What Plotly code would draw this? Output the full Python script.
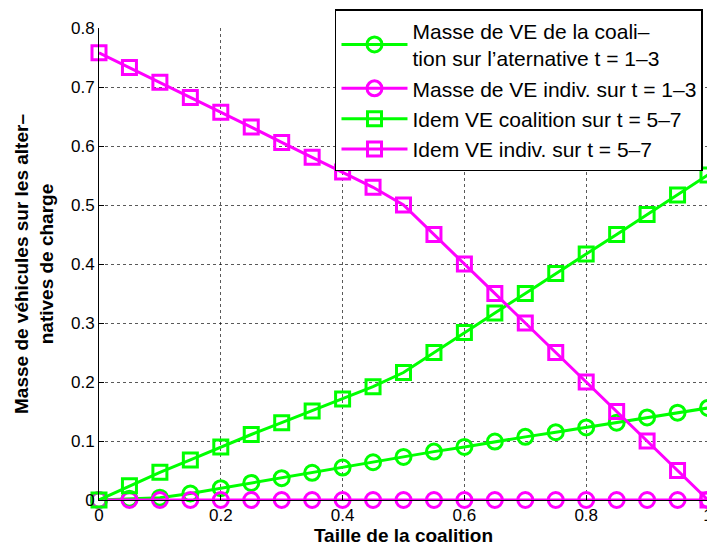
import plotly.graph_objects as go

x = [round(i * 0.05, 2) for i in range(21)]

coal_t13 = [0, 0.002, 0.004, 0.011, 0.020, 0.029, 0.037, 0.046, 0.055, 0.064, 0.073,
            0.082, 0.090, 0.099, 0.107, 0.115, 0.123, 0.131, 0.140, 0.148, 0.156]
indiv_t13 = [0] * 21
coal_t57 = [0, 0.024, 0.047, 0.068, 0.090, 0.111, 0.131, 0.151, 0.171, 0.192, 0.216,
            0.250, 0.284, 0.317, 0.350, 0.384, 0.417, 0.450, 0.484, 0.517, 0.551]
indiv_t57 = [0.758, 0.733, 0.708, 0.682, 0.657, 0.632, 0.606, 0.581, 0.556, 0.530, 0.500,
             0.450, 0.400, 0.350, 0.300, 0.250, 0.200, 0.150, 0.100, 0.050, 0.0]

names = [
    "Masse de VE de la coali–<br>tion sur l’aternative t = 1–3",
    "Masse de VE indiv. sur t = 1–3",
    "Idem VE coalition sur t = 5–7",
    "Idem VE indiv. sur t = 5–7",
]
GREEN = "#00FF00"
MAGENTA = "#FF00FF"

series = [
    (coal_t13, GREEN, "circle-open", 15),
    (indiv_t13, MAGENTA, "circle-open", 15),
    (coal_t57, GREEN, "square-open", 14),
    (indiv_t57, MAGENTA, "square-open", 14),
]

fig = go.Figure()
for (y, c, sym, sz), n in zip(series, names):
    fig.add_trace(go.Scatter(
        x=x, y=y, name=n, mode="lines+markers",
        line=dict(color=c, width=3),
        marker=dict(symbol=sym, size=sz, color=c, line=dict(color=c, width=3)),
        cliponaxis=False,
    ))

FONT = "Liberation Sans, Arial, Helvetica, sans-serif"
fig.update_layout(
    width=715, height=551,
    margin=dict(l=91, r=15, t=20, b=59, autoexpand=False),
    paper_bgcolor="white", plot_bgcolor="white",
    font=dict(family=FONT, size=17, color="black"),
    showlegend=True,
    legend=dict(
        x=0.3875, y=1.04, xanchor="left", yanchor="top",
        bgcolor="white", bordercolor="black", borderwidth=1.5,
        font=dict(size=21, family=FONT),
        tracegroupgap=0, itemwidth=66,
    ),
)
fig.update_xaxes(
    range=[0, 1], tickvals=[0, 0.2, 0.4, 0.6, 0.8, 1], ticktext=["0", "0.2", "0.4", "0.6", "0.8", "1"],
    showline=True, linecolor="black", linewidth=1,
    ticks="inside", ticklen=5, tickcolor="black",
    showgrid=True, gridcolor="rgba(0,0,0,0.65)", griddash="dot", gridwidth=1,
    zeroline=False, tickfont=dict(size=17), automargin=False,
    title=dict(text="<b>Taille de la coalition</b>", font=dict(size=19), standoff=0),
)
fig.update_yaxes(
    range=[0, 0.8], tickvals=[0, 0.1, 0.2, 0.3, 0.4, 0.5, 0.6, 0.7, 0.8],
    ticktext=["0", "0.1", "0.2", "0.3", "0.4", "0.5", "0.6", "0.7", "0.8"],
    showline=True, linecolor="black", linewidth=1,
    ticks="inside", ticklen=5, tickcolor="black",
    showgrid=True, gridcolor="rgba(0,0,0,0.65)", griddash="dot", gridwidth=1,
    zeroline=False, tickfont=dict(size=17), automargin=False,
    title=dict(text="<b>Masse de véhicules sur les alter–<br>natives de charge</b>", font=dict(size=19), standoff=12),
)

fig.write_html("out.html")
